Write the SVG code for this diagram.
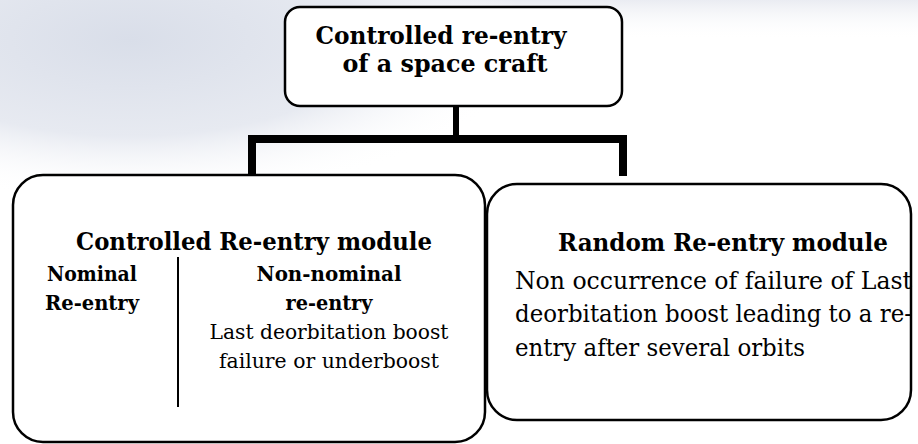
<svg xmlns="http://www.w3.org/2000/svg" width="918" height="444" viewBox="0 0 918 444">
<defs>
<radialGradient id="bg1" cx="130" cy="40" r="400" gradientUnits="userSpaceOnUse" gradientTransform="translate(130 40) scale(1 0.4) translate(-130 -40)">
<stop offset="0" stop-color="#d9dee9"/>
<stop offset="0.6" stop-color="#e7eaf1"/>
<stop offset="1" stop-color="#ffffff" stop-opacity="0"/>
</radialGradient>
<linearGradient id="bg2" x1="0" y1="0" x2="0" y2="1">
<stop offset="0" stop-color="#eaecf2"/>
<stop offset="1" stop-color="#ffffff" stop-opacity="0"/>
</linearGradient>
<style>
.box{fill:#ffffff;stroke:#000;stroke-width:2.5}
.conn{fill:#000}
text{font-family:'DejaVu Serif','Liberation Serif',serif;fill:#000}
.b{font-weight:bold}
</style>
</defs>
<rect x="0" y="0" width="918" height="444" fill="#ffffff"/>
<rect x="0" y="0" width="918" height="40" fill="url(#bg2)"/>
<rect x="0" y="0" width="918" height="444" fill="url(#bg1)"/>

<g id="connectors">
<rect class="conn" x="453" y="106" width="6" height="35"/>
<rect class="conn" x="248" y="135" width="379" height="8"/>
<rect class="conn" x="248" y="135" width="8" height="40"/>
<rect class="conn" x="619" y="135" width="8" height="41"/>
</g>

<g id="top">
<rect class="box" x="285" y="7" width="337" height="99" rx="15"/>
<text class="b" font-size="25" x="441" y="44" text-anchor="middle" textLength="251" lengthAdjust="spacingAndGlyphs">Controlled re-entry</text>
<text class="b" font-size="25" x="445" y="72" text-anchor="middle" textLength="205" lengthAdjust="spacingAndGlyphs">of a space craft</text>
</g>

<g id="controlled">
<rect class="box" x="13" y="175" width="472" height="267" rx="30"/>
<text class="b" font-size="25" x="254" y="250" text-anchor="middle" textLength="356" lengthAdjust="spacingAndGlyphs">Controlled Re-entry module</text>
<text class="b" font-size="21" x="92" y="281" text-anchor="middle" textLength="90" lengthAdjust="spacingAndGlyphs">Nominal</text>
<text class="b" font-size="21" x="92" y="310" text-anchor="middle" textLength="94" lengthAdjust="spacingAndGlyphs">Re-entry</text>
<line x1="178" y1="257" x2="178" y2="407" stroke="#000" stroke-width="2"/>
<text class="b" font-size="21" x="329" y="281" text-anchor="middle" textLength="145" lengthAdjust="spacingAndGlyphs">Non-nominal</text>
<text class="b" font-size="21" x="329" y="310" text-anchor="middle" textLength="87" lengthAdjust="spacingAndGlyphs">re-entry</text>
<text font-size="20" x="329" y="339" text-anchor="middle" textLength="239" lengthAdjust="spacingAndGlyphs">Last deorbitation boost</text>
<text font-size="20" x="329" y="368" text-anchor="middle" textLength="220" lengthAdjust="spacingAndGlyphs">failure or underboost</text>
</g>

<g id="random">
<rect class="box" x="487" y="184" width="424" height="236" rx="30"/>
<text class="b" font-size="25" x="558" y="251" textLength="330" lengthAdjust="spacingAndGlyphs">Random Re-entry module</text>
<text font-size="24" x="515" y="289" textLength="397" lengthAdjust="spacingAndGlyphs">Non occurrence of failure of Last</text>
<text font-size="24" x="515" y="322" textLength="397" lengthAdjust="spacingAndGlyphs">deorbitation boost leading to a re-</text>
<text font-size="24" x="515" y="356" textLength="290" lengthAdjust="spacingAndGlyphs">entry after several orbits</text>
</g>
</svg>
